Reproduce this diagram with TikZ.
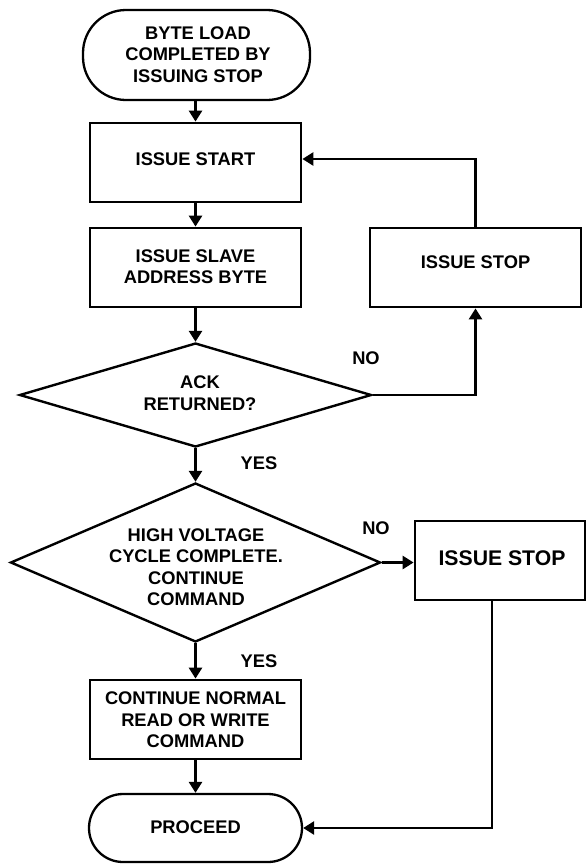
\documentclass[tikz,border=0pt]{standalone}
\usepackage{fontspec}
\setmainfont{Liberation Sans}
\usetikzlibrary{shapes.geometric,arrows.meta}
\begin{document}
\begin{tikzpicture}[x=1pt,y=-1pt,
  txt/.style={font=\fontsize{18.3}{21.5}\selectfont\bfseries, align=center, inner sep=0pt},
  bigtxt/.style={font=\fontsize{21.2}{24}\selectfont\bfseries, align=center, inner sep=0pt},
  boxnode/.style={draw, line width=2.8pt, rectangle, inner sep=0pt},
  termnode/.style={draw, line width=2.3pt, rectangle, inner sep=0pt},
  dianode/.style={draw, line width=2.4pt, diamond, inner sep=0pt, aspect=1},
  arr/.style={line width=2.6pt, -{Triangle[length=11pt,width=13pt]}},
  ln/.style={line width=2.6pt}
]
\useasboundingbox (0,0) rectangle (588,865);
% top terminator
\node[termnode, rounded corners=43pt, minimum width=227pt, minimum height=90pt] (t1) at (196.5,55) {};
\node[txt] (t1txt) at (198,54.5) {BYTE LOAD\\COMPLETED BY\\ISSUING STOP};
% issue start
\node[boxnode, minimum width=211pt, minimum height=79pt] (start) at (195.5,162.5) {};
\node[txt] (starttxt) at (195.5,159) {ISSUE START};
% slave address
\node[boxnode, minimum width=211pt, minimum height=79pt] (slave) at (195.5,267.5) {};
\node[txt] (slavetxt) at (195.5,266.5) {ISSUE SLAVE\\ADDRESS BYTE};
% issue stop upper
\node[boxnode, minimum width=211pt, minimum height=79pt] (stop1) at (475.5,267.5) {};
\node[txt] (stop1txt) at (475.5,262) {ISSUE STOP};
% diamond 1
\node[dianode, minimum width=352pt, minimum height=104pt] (d1) at (195.5,395) {};
\node[txt] (d1txt) at (200,393) {ACK\\RETURNED?};
% diamond 2
\node[dianode, minimum width=370pt, minimum height=159pt] (d2) at (195.5,562.5) {};
\node[txt] (d2txt) at (196,567) {HIGH VOLTAGE\\CYCLE COMPLETE.\\CONTINUE\\COMMAND};
% issue stop lower
\node[boxnode, minimum width=170pt, minimum height=79pt] (stop2) at (500,560.5) {};
\node[bigtxt] (stop2txt) at (502,558) {ISSUE STOP};
% continue box
\node[boxnode, minimum width=211pt, minimum height=79pt] (cont) at (195.5,719.5) {};
\node[txt] (conttxt) at (195.5,720) {CONTINUE NORMAL\\READ OR WRITE\\COMMAND};
% bottom terminator
\node[termnode, rounded corners=34pt, minimum width=213pt, minimum height=68pt] (t2) at (195.5,828) {};
\node[txt] (t2txt) at (195.5,827) {PROCEED};
% labels
\node[txt] (no1) at (366,358) {NO};
\node[txt] (yes1) at (259,463) {YES};
\node[txt] (no2) at (376,528) {NO};
\node[txt] (yes2) at (259,661) {YES};
% connectors
\draw[arr] (t1.south -| start.north) -- (start.north);
\draw[arr] (start.south) -- (slave.north);
\draw[arr] (slave.south) -- (d1.north);
\draw[arr] (d1.east) -| (stop1.south);
\draw[arr] (stop1.north) |- ([yshift=3.5pt]start.east);
\draw[arr] (d1.south) -- (d2.north);
\draw[arr] (d2.east) -- (stop2.west |- d2.east);
\draw[arr] (d2.south) -- (cont.north);
\draw[arr] (cont.south) -- (t2.north);
\draw[arr] ([xshift=-8pt]stop2.south) |- (t2.east);
\end{tikzpicture}
\end{document}
